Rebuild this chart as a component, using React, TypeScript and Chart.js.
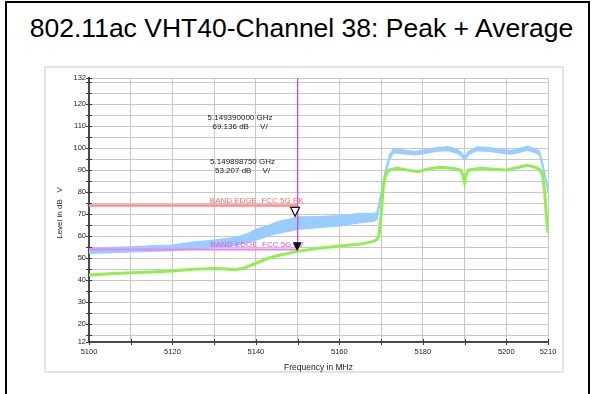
import React, { useEffect, useRef } from "react";
import { Chart, registerables } from "chart.js";

Chart.register(...registerables);

const FONT = "Arial, 'Liberation Sans', Helvetica, sans-serif";

const chartTitle = "802.11ac VHT40-Channel 38: Peak + Average";
const xAxisTitle = "Frequency in MHz";
const yAxisTitle = "Level in dB   V";

const xTicks = [5100, 5110, 5120, 5130, 5140, 5150, 5160, 5170, 5180, 5190, 5200, 5210];
const xLabeled = [5100, 5120, 5140, 5160, 5180, 5200, 5210];
const yTicks = [12, 15, 20, 25, 30, 35, 40, 45, 50, 55, 60, 65, 70, 75, 80, 85, 90, 95, 100, 105, 110, 115, 120, 125, 130, 132];
const yLabeled = [12, 20, 30, 40, 50, 60, 70, 80, 90, 100, 110, 120, 132];

// Peak trace (noisy band: upper and lower envelope)
const peakFreq = [5100, 5105, 5110, 5115, 5120, 5125, 5130, 5135, 5138, 5140, 5143, 5145, 5148, 5150, 5155, 5160, 5165, 5168, 5169, 5170, 5171, 5172, 5173, 5175, 5178, 5180, 5183, 5186, 5188, 5189, 5190, 5191, 5193, 5196, 5199, 5201, 5203, 5205, 5207, 5208, 5209, 5210];
const peakMax = [54.6, 55.0, 55.3, 55.7, 56.1, 57.4, 58.3, 59.6, 61.2, 63.2, 65.0, 66.5, 67.9, 68.9, 69.0, 69.5, 70.5, 70.3, 71.0, 80.0, 90.0, 97.0, 99.8, 99.3, 98.6, 99.2, 100.2, 100.8, 99.8, 98.6, 96.0, 98.8, 100.7, 100.4, 99.5, 99.0, 99.8, 101.0, 99.8, 98.6, 91.0, 82.0];
const peakMin = [52.3, 52.6, 52.9, 53.2, 53.5, 54.2, 55.0, 55.8, 57.3, 58.3, 60.2, 61.3, 62.4, 63.2, 64.0, 64.8, 66.2, 66.8, 67.5, 77.0, 87.0, 95.0, 98.0, 97.6, 97.0, 97.5, 98.6, 99.0, 98.0, 96.9, 94.6, 97.2, 98.9, 98.6, 97.8, 97.4, 98.1, 99.2, 98.1, 96.8, 89.0, 80.0];

// Average trace
const avgFreq = [5100, 5105, 5110, 5115, 5120, 5125, 5130, 5133, 5135, 5137, 5140, 5143, 5145, 5148, 5150, 5155, 5160, 5165, 5168, 5169, 5169.5, 5170, 5170.5, 5171, 5172, 5174, 5177, 5179, 5181, 5184, 5187, 5189, 5189.6, 5190, 5190.4, 5191, 5194, 5197, 5200, 5203, 5205, 5207, 5208, 5208.7, 5209.2, 5209.6, 5210];
const avgLevel = [42.5, 43.0, 43.5, 43.8, 44.3, 45.1, 45.4, 45.2, 44.8, 45.5, 47.8, 50.1, 51.2, 52.4, 53.2, 54.6, 55.6, 56.5, 57.6, 58.5, 60.5, 70.0, 82.0, 87.5, 90.3, 91.0, 89.9, 89.4, 90.5, 91.4, 91.0, 90.2, 88.0, 84.4, 88.0, 90.2, 91.0, 90.5, 90.2, 91.4, 92.3, 91.4, 90.5, 88.0, 80.0, 70.0, 61.5];

// Limit lines
const pkLimitFreq = [5100, 5150];
const pkLimitLevel = [74, 74];
const pkLimitLabel = "BAND EDGE  FCC 5G PK";
const avLimitFreq = [5100, 5150, 5150];
const avLimitLevel = [54, 54, 132];
const avLimitLabel = "BAND EDGE  FCC 5G AV";

// Markers
const markerFreq = [5149.39, 5149.89875];
const markerLevel = [69.136, 53.207];
const markerFilled = [false, true];
const markerLine1 = ["5.149390000 GHz", "5.149898750 GHz"];
const markerLine2 = ["69.136 dB     V/", "53.207 dB     V/"];
// where the marker readouts are written (data coordinates of first text line)
const MARKER_TEXT_AT = [
  { x: 5136.2, y: 113.8 },
  { x: 5136.8, y: 94.0 },
];

const pts = (xs: number[], ys: number[]) => xs.map((x, i) => ({ x, y: ys[i] }));

const overlayPlugin = {
  id: "overlay",
  afterDatasetsDraw(chart: any) {
    const { ctx, chartArea } = chart;
    const xs = chart.scales.x;
    const ys = chart.scales.y;
    ctx.save();

    // axis tick marks
    ctx.strokeStyle = "#3a3a3a";
    ctx.lineWidth = 1;
    const ax = Math.round(chartArea.left);
    for (const v of yTicks) {
      const y = Math.round(ys.getPixelForValue(v)) + 0.5;
      ctx.beginPath();
      ctx.moveTo(ax - 3, y);
      ctx.lineTo(ax + 3, y);
      ctx.stroke();
    }
    const ay = Math.round(chartArea.bottom);
    for (const v of xTicks) {
      const x = Math.round(xs.getPixelForValue(v)) + 0.5;
      ctx.beginPath();
      ctx.moveTo(x, ay - 3);
      ctx.lineTo(x, ay + 3);
      ctx.stroke();
    }

    // limit labels
    ctx.font = `8px ${FONT}`;
    ctx.textAlign = "right";
    ctx.textBaseline = "alphabetic";
    ctx.fillStyle = "#ff6666";
    ctx.fillText(
      pkLimitLabel,
      xs.getPixelForValue(pkLimitFreq[pkLimitFreq.length - 1]) + 6,
      ys.getPixelForValue(pkLimitLevel[0]) - 3
    );
    ctx.fillStyle = "#e84ce8";
    ctx.fillText(
      avLimitLabel,
      xs.getPixelForValue(avLimitFreq[1]) + 6,
      ys.getPixelForValue(avLimitLevel[0]) - 3
    );

    // markers
    for (let i = 0; i < markerFreq.length; i++) {
      const x = xs.getPixelForValue(markerFreq[i]);
      const y = ys.getPixelForValue(markerLevel[i]);
      ctx.beginPath();
      ctx.moveTo(x, y);
      ctx.lineTo(x - 4.5, y - 9);
      ctx.lineTo(x + 4.5, y - 9);
      ctx.closePath();
      if (markerFilled[i]) {
        ctx.fillStyle = "#111";
        ctx.fill();
      } else {
        ctx.fillStyle = "#fff";
        ctx.fill();
        ctx.strokeStyle = "#111";
        ctx.lineWidth = 1.2;
        ctx.stroke();
      }
    }

    // marker readouts
    ctx.font = `8px ${FONT}`;
    ctx.textAlign = "center";
    ctx.textBaseline = "middle";
    ctx.fillStyle = "#222";
    for (let i = 0; i < markerFreq.length; i++) {
      const x = xs.getPixelForValue(MARKER_TEXT_AT[i].x);
      const y = ys.getPixelForValue(MARKER_TEXT_AT[i].y);
      ctx.fillText(markerLine1[i], x, y);
      ctx.fillText(markerLine2[i], x, y + 9);
    }

    // axis titles
    ctx.font = `8.5px ${FONT}`;
    ctx.fillStyle = "#222";
    ctx.textAlign = "center";
    ctx.textBaseline = "middle";
    ctx.fillText(xAxisTitle, (chartArea.left + chartArea.right) / 2, chartArea.bottom + 26);
    ctx.save();
    ctx.translate(chartArea.left - 29, (chartArea.top + chartArea.bottom) / 2 + 3);
    ctx.rotate(-Math.PI / 2);
    ctx.font = `8px ${FONT}`;
    ctx.fillText(yAxisTitle, 0, 0);
    ctx.restore();

    ctx.restore();
  },
};

export default function App() {
  const ref = useRef<HTMLCanvasElement>(null);

  useEffect(() => {
    if (!ref.current) return;
    const chart = new Chart(ref.current, {
      type: "line",
      data: {
        datasets: [
          {
            label: "AV limit",
            data: pts(avLimitFreq, avLimitLevel),
            borderColor: "#ee82ee",
            borderWidth: 2,
            pointRadius: 0,
            fill: false,
            segment: {
              borderColor: (c: any) => (c.p0DataIndex === 1 ? "#dd44dd" : "#ee82ee"),
              borderWidth: (c: any) => (c.p0DataIndex === 1 ? 1.3 : 2),
            },
          } as any,
          {
            label: "PK limit",
            data: pts(pkLimitFreq, pkLimitLevel),
            borderColor: "#ff8c8c",
            borderWidth: 2.5,
            pointRadius: 0,
            fill: false,
          },
          {
            label: "Average",
            data: pts(avgFreq, avgLevel),
            borderColor: "#90ee50",
            borderWidth: 3,
            pointRadius: 0,
            fill: false,
          },
          {
            label: "Peak max",
            data: pts(peakFreq, peakMax),
            borderColor: "#99ccff",
            backgroundColor: "#99ccff",
            borderWidth: 1.2,
            pointRadius: 0,
            fill: "+1",
          },
          {
            label: "Peak min",
            data: pts(peakFreq, peakMin),
            borderColor: "#99ccff",
            borderWidth: 1.2,
            pointRadius: 0,
            fill: false,
          },
        ],
      },
      options: {
        animation: false,
        responsive: false,
        devicePixelRatio: 1,
        layout: { padding: { left: 0, top: 78, right: 43, bottom: 0 } },
        elements: { line: { tension: 0 }, point: { radius: 0 } },
        plugins: {
          legend: { display: false },
          tooltip: { enabled: false },
          title: { display: false },
        },
        scales: {
          x: {
            type: "linear",
            min: 5100,
            max: 5210,
            offset: false,
            afterBuildTicks: (s: any) => {
              s.ticks = xTicks.map((v) => ({ value: v }));
            },
            afterFit: (s: any) => {
              s.height = 52;
            },
            ticks: {
              autoSkip: false,
              maxRotation: 0,
              minRotation: 0,
              padding: 5,
              color: "#222",
              font: { size: 7.5, family: FONT },
              callback: (v: any) => (xLabeled.includes(Number(v)) ? String(v) : ""),
            },
            grid: { color: "#c8c8c8", lineWidth: 1, drawTicks: false },
            border: { display: true, color: "#4a4a4a", width: 2 },
          },
          y: {
            type: "linear",
            min: 12,
            max: 132,
            afterBuildTicks: (s: any) => {
              s.ticks = yTicks.map((v) => ({ value: v }));
            },
            afterFit: (s: any) => {
              s.width = 89;
            },
            ticks: {
              autoSkip: false,
              padding: 3,
              color: "#222",
              font: { size: 7.5, family: FONT },
              callback: (v: any) => (yLabeled.includes(Number(v)) ? String(v) : ""),
            },
            grid: { color: "#c8c8c8", lineWidth: 1, drawTicks: false },
            border: { display: true, color: "#4a4a4a", width: 2 },
          },
        },
      } as any,
      plugins: [overlayPlugin],
    });
    return () => chart.destroy();
  }, []);

  return (
    <div
      style={{
        position: "fixed",
        left: 0,
        top: 0,
        width: 591,
        height: 394,
        overflow: "hidden",
        background: "#fff",
      }}
    >
      <div
        style={{
          position: "absolute",
          left: 5,
          top: 1,
          width: 585,
          height: 420,
          border: "2px solid #000",
          boxSizing: "border-box",
        }}
      />
      <div
        style={{
          position: "absolute",
          left: 9,
          top: 13,
          width: 585,
          textAlign: "center",
          fontFamily: FONT,
          fontSize: 26.5,
          lineHeight: "30px",
          color: "#000",
          whiteSpace: "nowrap",
        }}
      >
        {chartTitle}
      </div>
      <div
        style={{
          position: "absolute",
          left: 44,
          top: 66,
          width: 520,
          height: 307,
          border: "2px solid #e4e4e4",
          boxSizing: "border-box",
        }}
      />
      <canvas
        ref={ref}
        width={591}
        height={394}
        style={{ position: "absolute", left: 0, top: 0, width: 591, height: 394 }}
      />
    </div>
  );
}
